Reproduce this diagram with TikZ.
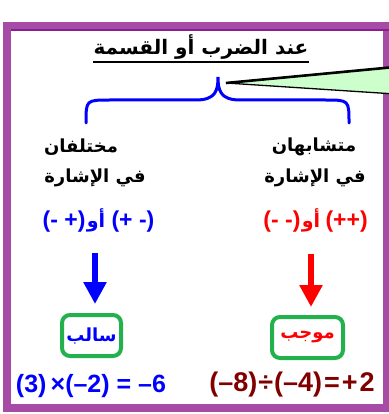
\documentclass[tikz,border=0pt]{standalone}
\usepackage{fontspec}
\setmainfont{Liberation Sans}
\newfontfamily\arabicfont[Script=Arabic]{DejaVu Sans}
\TeXXeTstate=1
\usetikzlibrary{arrows.meta}
\definecolor{framepurple}{HTML}{A64CA6}
\definecolor{framedark}{HTML}{8A1E8A}
\definecolor{calloutgreen}{HTML}{CCFFCC}
\definecolor{boxgreen}{HTML}{22B14C}
\definecolor{darkred}{HTML}{800000}
\newcommand{\ar}[1]{{\arabicfont\beginR #1\endR}}
\begin{document}
\begin{tikzpicture}[x=1pt,y=-1pt,
  lbl/.style={font=\bfseries\fontsize{18}{22}\selectfont, inner sep=0pt},
  signs/.style={font=\bfseries\fontsize{23}{26}\selectfont, inner sep=0pt},
  orword/.style={font=\bfseries\fontsize{19}{22}\selectfont, inner sep=0pt},
  eqn/.style={font=\bfseries\fontsize{25}{28}\selectfont, inner sep=0pt},
  resbox/.style={draw=boxgreen, line width=4pt, rounded corners=8pt, inner sep=0pt,
     font=\bfseries\fontsize{18}{22}\selectfont},
  bigarrow/.style={line width=6pt, -{Triangle[width=22pt,length=22pt]}}
]
\useasboundingbox (0,0) rectangle (388,414);
% frame
\draw[framepurple, line width=8pt] (7,26) rectangle (387,407.5);
\draw[framepurple, line width=3pt] (7,23.5) -- (392,23.5);
\draw[framedark, line width=2.5pt] (11,30) -- (392,30);
% title
\node[lbl, anchor=south, font=\bfseries\fontsize{20}{24}\selectfont] (title) at (201,60) {\ar{عند الضرب أو القسمة}};
\draw[line width=1.6pt] ([yshift=-2pt]title.south west) -- ([yshift=-2pt]title.south east);
% callout
\coordinate (tip) at (226,83);
\coordinate (ctop) at (395,67);
\coordinate (cbot) at (395,94);
\filldraw[fill=calloutgreen, draw=black, line width=1.3pt] (tip) -- (ctop) -- (cbot) -- cycle;
\draw[line width=2.6pt] (tip) -- (ctop);
% brace
\coordinate (bl) at (86,123);
\coordinate (br) at (349,123);
\coordinate (bt) at (218,77);
\draw[blue, line width=3pt, line cap=round]
  (bl) .. controls (86,100) .. (110,100) -- (196,100)
  .. controls (216,100) and (218,90) .. (bt)
  .. controls (218,90) and (220,100) .. (240,100) -- (325,100)
  .. controls (349,100) .. (br);
% columns
\node[lbl] (sim1) at (314,147) {\ar{متشابهان}};
\node[lbl] (sim2) at (315,178) {\ar{في الإشارة}};
\node[lbl] (dif1) at (81,147) {\ar{مختلفان}};
\node[lbl] (dif2) at (95,178) {\ar{في الإشارة}};
% signs (blue)
\node[orword, text=blue] (bor) at (96,220) {\ar{أو}};
\node[signs, text=blue, anchor=east] (bsl) at ([xshift=-1pt]bor.west |- 0,222) {(- +)};
\node[signs, text=blue, anchor=west] (bsr) at ([xshift=6pt]bor.east |- 0,222) {(+ -)};
% signs (red)
\node[orword, text=red] (ror) at (311,220) {\ar{أو}};
\node[signs, text=red, anchor=east] (rsl) at ([xshift=-1pt]ror.west |- 0,222) {(- -)};
\node[signs, text=red, anchor=west] (rsr) at ([xshift=5pt]ror.east |- 0,222) {(++)};
% arrows
\coordinate (ba1) at (95,253);
\coordinate (ba2) at (95,304);
\coordinate (ra1) at (311,254);
\coordinate (ra2) at (311,307);
\draw[blue, bigarrow] (ba1) -- (ba2);
\draw[red, bigarrow] (ra1) -- (ra2);
% result boxes
\node[resbox, text=blue, minimum width=59pt, minimum height=41pt] (neg) at (91.5,335.5) {\ar{سالب}};
\node[resbox, text=red, minimum width=71pt, minimum height=41pt] (pos) at (307.5,337.5) {\ar{موجب}};
% equations
\node[eqn, text=blue] (eqneg) at (91,386) {(3)\,×(–2) = –6};
\node[eqn, text=darkred, font=\bfseries\fontsize{27}{30}\selectfont] (eqpos) at (292,385) {(–8)\kern1pt÷\kern1pt(–4)\kern2pt=\kern2pt+\kern2pt2};
\end{tikzpicture}
\end{document}
